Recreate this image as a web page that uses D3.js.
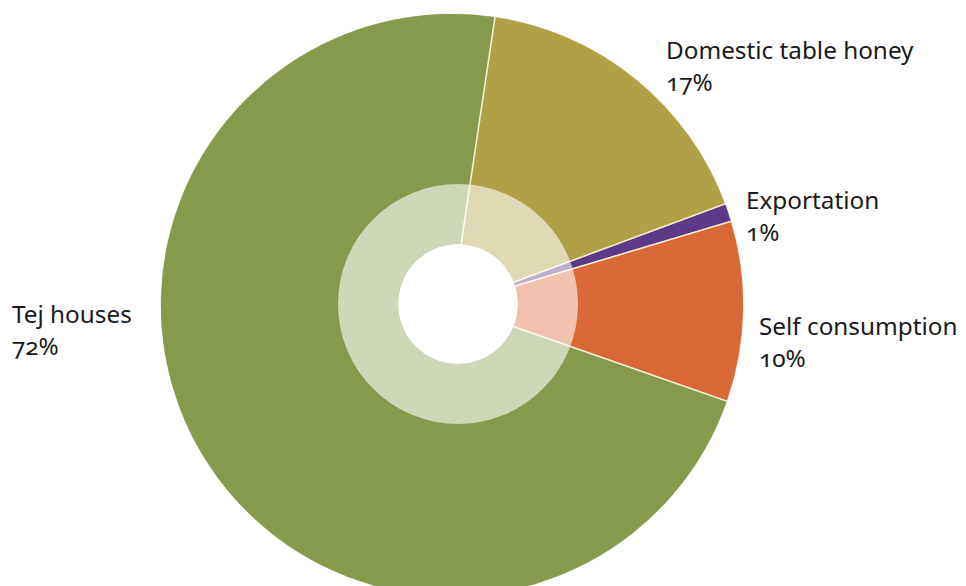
<!DOCTYPE html>
<html>
<head>
<meta charset="utf-8">
<script src="https://cdn.jsdelivr.net/npm/d3@7"></script>
<style>
  html, body { margin: 0; padding: 0; background: #fff; }
  svg text { font-family: "Noto Sans", "Open Sans", sans-serif; font-variant-numeric: oldstyle-nums; fill: #1a1a1a; }
</style>
</head>
<body>
<svg id="chart" width="966" height="586"></svg>
<script>
const categories = ["Domestic table honey", "Exportation", "Self consumption", "Tej houses"];
const shares = [17, 1, 10, 72];
const shareLabels = ["17%", "1%", "10%", "72%"];

const colors = ["#b0a146", "#5c3a87", "#d96837", "#859b4b"];
const labelAnchors = [[666, 59], [746, 209], [759, 335], [12, 323]];

const svg = d3.select("#chart");
const cx = 452, cy = 305, R = 291;
const startDeg = 8.5;

const pie = d3.pie().sort(null).value(d => d)
  .startAngle(startDeg * Math.PI / 180)
  .endAngle(startDeg * Math.PI / 180 + 2 * Math.PI);
const arcs = pie(shares);
const arc = d3.arc().innerRadius(0).outerRadius(R);

const g = svg.append("g").attr("transform", `translate(${cx},${cy})`);
g.selectAll("path.slice").data(arcs).join("path")
  .attr("class", "slice")
  .attr("d", arc)
  .attr("fill", (d, i) => colors[i])
  .attr("stroke", (d, i) => colors[i])
  .attr("stroke-width", 0.5);

// separator lines between slices
g.selectAll("line.sep").data(arcs).join("line")
  .attr("class", "sep")
  .attr("x1", 0).attr("y1", 0)
  .attr("x2", d => d3.pointRadial(d.startAngle, R + 0.5)[0])
  .attr("y2", d => d3.pointRadial(d.startAngle, R + 0.5)[1])
  .attr("stroke", "#f3f0d2")
  .attr("stroke-width", 1.6);

// translucent ring and white hole
const ring = d3.arc().innerRadius(60).outerRadius(120).startAngle(0).endAngle(2 * Math.PI);
svg.append("path")
  .attr("transform", "translate(458,304)")
  .attr("d", ring())
  .attr("fill", "#ffffff")
  .attr("fill-opacity", 0.6);
svg.append("circle").attr("cx", 458).attr("cy", 304).attr("r", 60).attr("fill", "#fff");

// labels
const lab = svg.append("g");
categories.forEach((c, i) => {
  const [x, y] = labelAnchors[i];
  const t = lab.append("text").attr("x", x).attr("y", y).attr("font-size", 24.3);
  t.append("tspan").attr("x", x).text(c);
  t.append("tspan").attr("x", x).attr("dy", 32).text(shareLabels[i]);
});
</script>
</body>
</html>
